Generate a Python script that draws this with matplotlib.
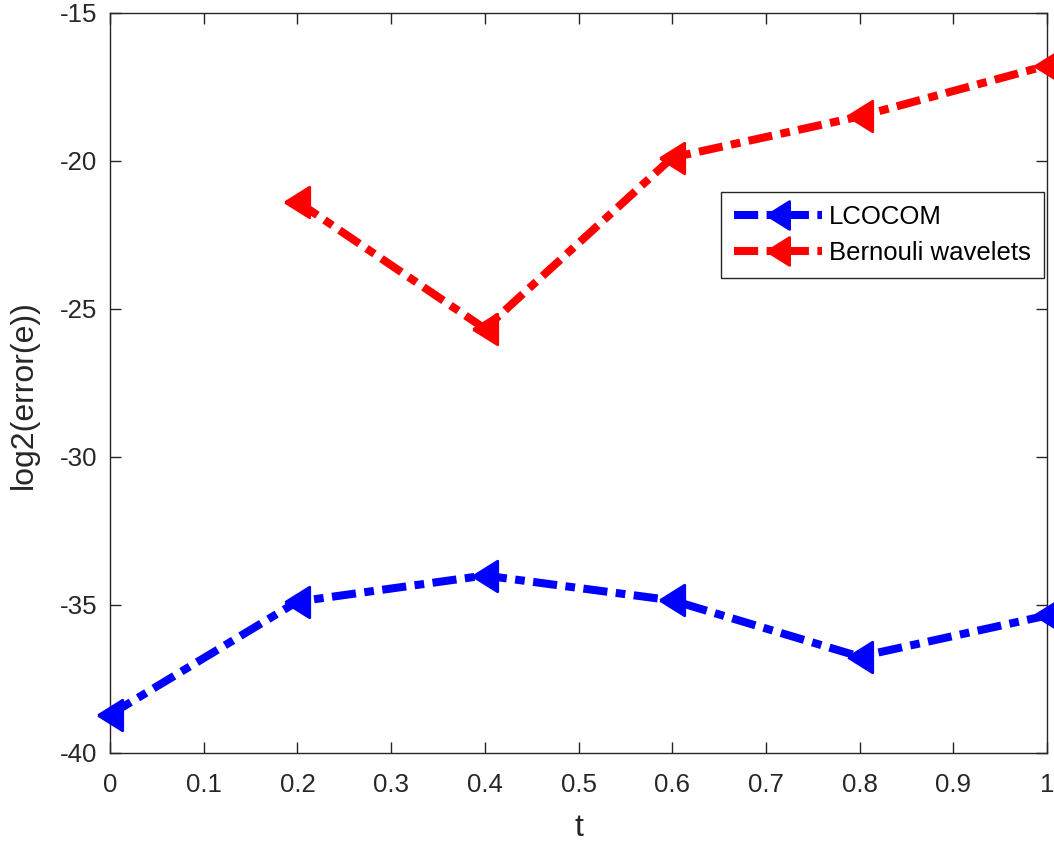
import numpy as np
import matplotlib
matplotlib.use("Agg")
import matplotlib.pyplot as plt

plt.rcParams['font.family'] = ['Liberation Sans', 'DejaVu Sans']
plt.rcParams['axes.unicode_minus'] = False

# data
t_lcocom = [0.0, 0.2, 0.4, 0.6, 0.8, 1.0]
e_lcocom = [-38.72, -34.9, -34.02, -34.86, -36.76, -35.37]
t_bern = [0.2, 0.4, 0.6, 0.8, 1.0]
e_bern = [-21.39, -25.68, -19.9, -18.51, -16.79]
xticks = np.arange(0, 1.01, 0.1)
yticks = [-40, -35, -30, -25, -20, -15]

# narrower left-pointing triangle, like matlab's '<'
tri = [(-0.8, 0), (0.8, -1), (0.8, 1), (-0.8, 0)]

fig = plt.figure(figsize=(10.54, 8.48), dpi=100)
ax = fig.add_axes([0.1044, 0.1126, 0.8890, 0.8726])

dash = (0, (3.0, 1.05, 1.2, 1.05))
ax.plot(t_lcocom, e_lcocom, color='#0000ff', lw=5.8, linestyle=dash,
        marker=tri, ms=22, mew=2, mfc='#0000ff', mec='#0000ff', label='LCOCOM',
        clip_on=False, zorder=3)
ax.plot(t_bern, e_bern, color='#ff0000', lw=5.8, linestyle=dash,
        marker=tri, ms=22, mew=2, mfc='#ff0000', mec='#ff0000',
        label='Bernouli wavelets', clip_on=False, zorder=3)

ax.set_xlim(0, 1)
ax.set_ylim(-40, -15)
ax.set_xticks(xticks)
ax.set_xticklabels(['0', '0.1', '0.2', '0.3', '0.4', '0.5', '0.6', '0.7',
                    '0.8', '0.9', '1'])
ax.set_yticks(yticks)
ax.tick_params(direction='in', top=True, right=True, length=8, width=1,
               labelsize=18.6, colors='#262626')
ax.tick_params(axis='x', pad=15)
ax.tick_params(axis='y', pad=9)
for s in ax.spines.values():
    s.set_color('#262626')
    s.set_linewidth(1)

ax.set_xlabel('t', fontsize=23, color='#262626', labelpad=11)
ax.set_ylabel('log2(error(e))', fontsize=23, color='#262626')
ax.yaxis.set_label_coords(-0.076, 0.484)

leg = ax.legend(loc='upper right', bbox_to_anchor=(0.9968, 0.757),
                fontsize=18.5, fancybox=False, framealpha=1, edgecolor='#262626',
                handlelength=3.4, borderpad=0.5, labelspacing=0.45,
                handletextpad=0.3, borderaxespad=0)
leg.get_frame().set_linewidth(1)
for h in leg.legend_handles:
    h.set_markersize(20)

fig.savefig('out.png', dpi=100)
